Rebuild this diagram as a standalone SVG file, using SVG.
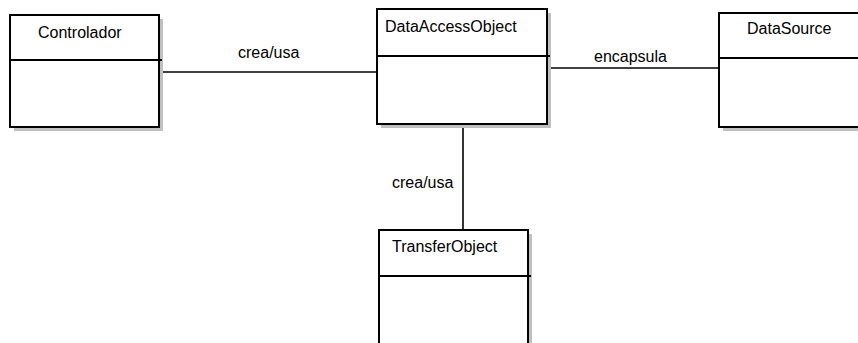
<svg xmlns="http://www.w3.org/2000/svg" width="858" height="343" viewBox="0 0 858 343">
<style>
.shadow{fill:#c0c0c0;stroke:none}
.box{fill:#fff;stroke:#000;stroke-width:2}
.div{stroke:#000;stroke-width:2}
.conn{stroke:#000;stroke-width:1.6;fill:none}
text{font-family:"Liberation Sans",Arial,sans-serif;font-size:16px;fill:#000}
</style>
<rect width="858" height="343" fill="#fff"/>
<g id="connectors">
<line class="conn" x1="162" y1="72" x2="377" y2="72"/>
<line class="conn" x1="550" y1="68" x2="719" y2="68"/>
<line class="conn" x1="463" y1="127" x2="463" y2="230"/>
<text x="238" y="58">crea/usa</text>
<text x="594" y="62">encapsula</text>
<text x="392" y="188">crea/usa</text>
</g>
<g id="controlador">
<rect class="shadow" x="14" y="19" width="149" height="112"/>
<rect class="box" x="10" y="15" width="149" height="112"/>
<line class="div" x1="10" y1="60" x2="162" y2="60"/>
<text x="38" y="38">Controlador</text>
</g>
<g id="dataaccessobject">
<rect class="shadow" x="381" y="13" width="170" height="115"/>
<rect class="box" x="377" y="9" width="170" height="115"/>
<line class="div" x1="377" y1="56" x2="550" y2="56"/>
<text x="385" y="32">DataAccessObject</text>
</g>
<g id="datasource">
<rect class="shadow" x="723" y="17" width="150" height="114"/>
<rect class="box" x="719" y="13" width="150" height="114"/>
<line class="div" x1="719" y1="58" x2="869" y2="58"/>
<text x="747" y="34">DataSource</text>
</g>
<g id="transferobject">
<rect class="shadow" x="383" y="234" width="149" height="130"/>
<rect class="box" x="379" y="230" width="149" height="130"/>
<line class="div" x1="379" y1="276" x2="531" y2="276"/>
<text x="392" y="252">TransferObject</text>
</g>
</svg>
